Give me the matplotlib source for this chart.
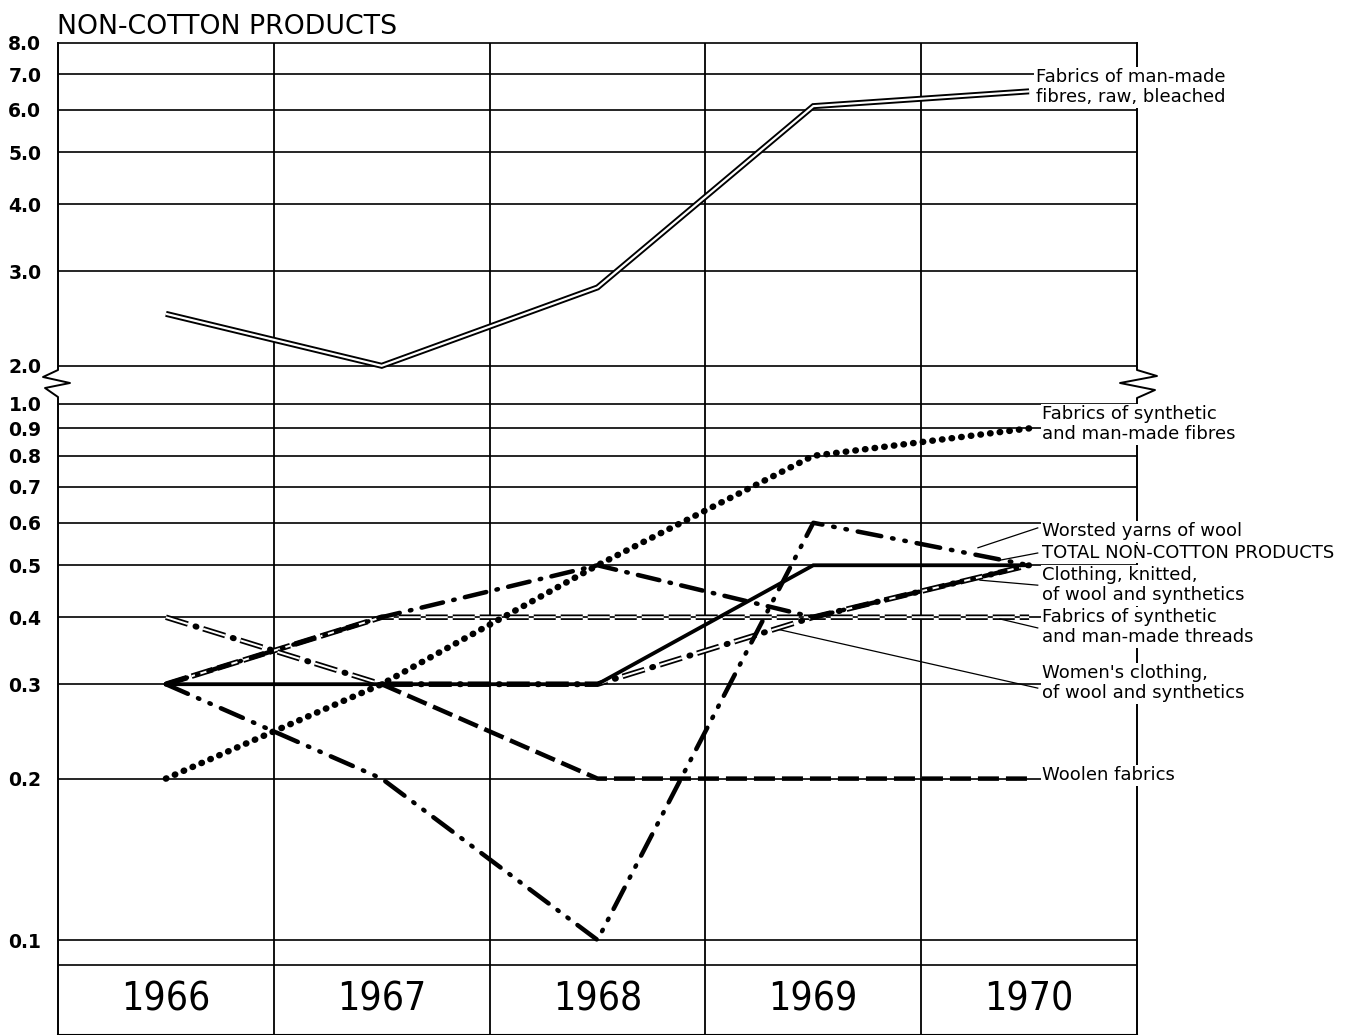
import numpy as np
import matplotlib
matplotlib.use("Agg")
import matplotlib.pyplot as plt
from matplotlib.lines import Line2D
from matplotlib.ticker import FixedLocator, NullLocator
from matplotlib import font_manager

plt.rcParams['lines.scale_dashes'] = False
plt.rcParams['font.family'] = ['DejaVu Sans']

# ---------------- data ----------------
years = ['1966', '1967', '1968', '1969', '1970']
raw_bleached = [2.5, 2.0, 2.8, 6.1, 6.5]
synthetic_fibres = [0.2, 0.3, 0.5, 0.8, 0.9]
worsted_yarns = [0.3, 0.2, 0.1, 0.6, 0.5]
total_non_cotton = [0.3, 0.3, 0.3, 0.5, 0.5]
clothing_knitted = [0.3, 0.4, 0.5, 0.4, 0.5]
synthetic_threads = [0.3, 0.4, 0.4, 0.4, 0.4]
womens_clothing = [0.4, 0.3, 0.3, 0.4, 0.5]
woolen_fabrics = [np.nan, 0.3, 0.2, 0.2, 0.2]

ytick_values = [8.0, 7.0, 6.0, 5.0, 4.0, 3.0, 2.0, 1.0, 0.9, 0.8, 0.7, 0.6,
                0.5, 0.4, 0.3, 0.2, 0.1]
ytick_labels = ['8.0', '7.0', '6.0', '5.0', '4.0', '3.0', '2.0', '1.0', '0.9',
                '0.8', '0.7', '0.6', '0.5', '0.4', '0.3', '0.2', '0.1']

title = 'NON-COTTON PRODUCTS'

# ---------------- find an upright narrow font for the year labels ----------------
narrow_font = None
cands = []
for f in font_manager.fontManager.ttflist:
    nm = f.name.lower()
    fn = f.fname.lower()
    if ('narrow' in nm or 'condensed' in nm or 'narrow' in fn or 'condensed' in fn) \
            and 'mono' not in nm and 'serif' not in nm and f.style == 'normal' \
            and 'italic' not in fn and 'oblique' not in fn:
        try:
            w = int(f.weight)
        except (TypeError, ValueError):
            w = 400 if str(f.weight) in ('normal', 'regular', 'book') else 700
        if w <= 450:
            cands.append((abs(w - 400), f.fname))
if cands:
    cands.sort()
    narrow_font = cands[0][1]

# ---------------- broken log scale ----------------
GAP = 0.071
L2 = np.log10(2.0)


def fwd(y):
    y = np.asarray(y, dtype=float)
    L = np.log10(np.clip(y, 1e-12, None))
    return np.where(L <= 0, L, np.where(L >= L2, L - L2 + GAP, L / L2 * GAP))


def inv(t):
    t = np.asarray(t, dtype=float)
    return np.where(t <= 0, 10.0 ** t,
                    np.where(t >= GAP, 10.0 ** (t - GAP + L2), 10.0 ** (t / GAP * L2)))


W, H = 1352, 1035
fig = plt.figure(figsize=(W / 100, H / 100), dpi=100)
ax = fig.add_axes([58 / W, 0, 1079 / W, 992 / H])
ax.set_yscale('function', functions=(fwd, inv))
ax.set_ylim(0.0665, 8.0)
ax.set_xlim(-0.5, 4.5)

P = 0.72  # px -> pt
x = np.arange(len(years))

# grid
for v in ytick_values[1:]:
    ax.axhline(v, color='black', lw=1.2, zorder=1)
ax.axhline(0.0898, color='black', lw=1.2, zorder=1)
for b in [0.5, 1.5, 2.5, 3.5]:
    ax.axvline(b, color='black', lw=1.3, zorder=1)

# spines with break zig-zag
ax.spines['left'].set_visible(False)
ax.spines['right'].set_visible(False)
ax.spines['top'].set_linewidth(1.2)
ax.spines['bottom'].set_linewidth(1.5)
left_sp = [(58, 43), (58, 370), (43, 377), (70, 383), (45, 388), (58, 397), (58, 1035)]
right_sp = [(1137, 43), (1137, 370), (1157, 376), (1120, 383), (1155, 390), (1137, 398), (1137, 1035)]
for sp in (left_sp, right_sp):
    xs = [p[0] / W for p in sp]
    ys = [1 - p[1] / H for p in sp]
    ax.add_line(Line2D(xs, ys, transform=fig.transFigure, color='black', lw=1.4,
                       clip_on=False, zorder=2))


def px(seq):
    return tuple(s * P for s in seq)


def double(vals, dashes=None, outer=5.5, inner=2.0, z=4):
    ls = '-' if dashes is None else (0, px(dashes))
    kw = dict(solid_capstyle='butt', dash_capstyle='butt',
              solid_joinstyle='miter', dash_joinstyle='miter')
    ax.plot(x, vals, color='black', lw=outer * P, linestyle=ls, zorder=z, **kw)
    ax.plot(x, vals, color='white', lw=inner * P, linestyle=ls, zorder=z + 0.05, **kw)


# Fabrics of man-made fibres, raw, bleached (double solid)
double(raw_bleached, None, 6.0, 2.2, 4)

# Fabrics of synthetic and man-made threads (double dashed)
double(synthetic_threads, (22, 5), 5.5, 2.0, 3.2)

# Women's clothing (double dash-dot)
double(womens_clothing, (23, 16), 5.5, 2.0, 3.4)
ax.plot(x, womens_clothing, color='black', lw=6 * P,
        linestyle=(8 * P, px((1.0, 38.0))), dash_capstyle='round', zorder=3.5)

# Woolen fabrics (heavy dashes)
ax.plot(x, woolen_fabrics, color='black', lw=4.5 * P, linestyle=(0, px((21, 7))),
        dash_capstyle='butt', zorder=3.3)

# TOTAL (heavy solid)
ax.plot(x, total_non_cotton, color='black', lw=3.8 * P, solid_joinstyle='miter', zorder=3.6)

# Clothing, knitted (heavy dash-dot)
ax.plot(x, clothing_knitted, color='black', lw=4.5 * P,
        linestyle=(0, px((22, 10.5, 1.5, 10.5))), dash_capstyle='round', zorder=3.7)

# Worsted yarns (heavy dash-dot-dot)
ax.plot(x, worsted_yarns, color='black', lw=4.5 * P,
        linestyle=(0, px((24, 11, 1.5, 11, 1.5, 11))), dash_capstyle='round', zorder=3.8)

# Fabrics of synthetic and man-made fibres (heavy dotted)
ax.plot(x, synthetic_fibres, color='black', lw=6.5 * P,
        linestyle=(0, px((0.5, 9.2))), dash_capstyle='round', zorder=3.9)

# ticks
ax.yaxis.set_major_locator(FixedLocator(ytick_values))
ax.yaxis.set_minor_locator(NullLocator())
ax.set_yticks(ytick_values, ytick_labels)
ax.tick_params(axis='y', length=0, pad=12, labelsize=13.5)
for t in ax.get_yticklabels():
    t.set_fontweight('bold')
ax.set_xticks([])

# year labels
if narrow_font is not None:
    year_fp = font_manager.FontProperties(fname=narrow_font, size=28)
else:
    year_fp = font_manager.FontProperties(family='DejaVu Sans', size=25)
for i, yr in enumerate(years):
    ax.text(i, 0.0353, yr, transform=ax.get_xaxis_transform(), ha='center', va='center',
            fontproperties=year_fp, zorder=6)

# right-hand labels
lab_kw = dict(ha='left', va='center', fontsize=13, linespacing=1.15, zorder=7,
              bbox=dict(facecolor='white', edgecolor='none', pad=1.0))
ax.text(4.03, 6.62, 'Fabrics of man-made\nfibres, raw, bleached', clip_on=False, **lab_kw)
ax.text(4.06, 0.917, 'Fabrics of synthetic\nand man-made fibres', clip_on=False, **lab_kw)
ax.text(4.06, 0.579, 'Worsted yarns of wool', clip_on=False, **lab_kw)
ax.text(4.06, 0.527, 'TOTAL NON-COTTON PRODUCTS', clip_on=False, **lab_kw)
ax.text(4.06, 0.459, 'Clothing, knitted,\nof wool and synthetics', clip_on=False, **lab_kw)
ax.text(4.06, 0.3835, 'Fabrics of synthetic\nand man-made threads', clip_on=False, **lab_kw)
ax.text(4.06, 0.3015, "Women's clothing,\nof wool and synthetics", clip_on=False, **lab_kw)
ax.text(4.06, 0.203, 'Woolen fabrics', clip_on=False, **lab_kw)

# leader lines
leaders = [((4.04, 0.587), (3.763, 0.539)),
           ((4.04, 0.527), (3.865, 0.511)),
           ((4.04, 0.459), (3.772, 0.469)),
           ((4.04, 0.382), (3.865, 0.397)),
           ((4.04, 0.295), (2.845, 0.379))]
for (x0, y0), (x1, y1) in leaders:
    ax.plot([x0, x1], [y0, y1], color='black', lw=0.9, zorder=5, clip_on=False)

fig.text(57 / W, 1 - 27 / H, title, fontsize=19.3, ha='left', va='center')

fig.savefig('out.png', dpi=100)
